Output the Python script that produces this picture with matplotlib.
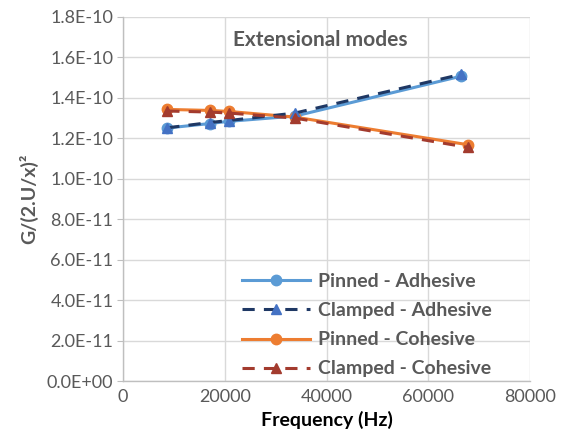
import matplotlib
matplotlib.use("Agg")
import matplotlib.pyplot as plt
from matplotlib.ticker import FuncFormatter

plt.rcParams['font.family'] = ['Lato', 'DejaVu Sans']

# data
freq_adh = [8700, 17000, 20800, 33800, 66400]
pinned_adh = [1.251e-10, 1.273e-10, 1.284e-10, 1.310e-10, 1.507e-10]
clamped_adh = [1.252e-10, 1.278e-10, 1.288e-10, 1.325e-10, 1.516e-10]

freq_coh = [8700, 17000, 20800, 33800, 67900]
pinned_coh = [1.343e-10, 1.338e-10, 1.333e-10, 1.305e-10, 1.168e-10]
clamped_coh = [1.335e-10, 1.330e-10, 1.325e-10, 1.300e-10, 1.155e-10]

labels = ["Pinned - Adhesive", "Clamped - Adhesive", "Pinned - Cohesive", "Clamped - Cohesive"]
x_ticks = [0, 20000, 40000, 60000, 80000]
y_ticks = [0, 2e-11, 4e-11, 6e-11, 8e-11, 1e-10, 1.2e-10, 1.4e-10, 1.6e-10, 1.8e-10]

grey = "#595959"

fig = plt.figure(figsize=(5.63, 4.46), dpi=100)
ax = fig.add_axes([0.2185, 0.1457, 0.7229, 0.8162])

ax.plot(freq_adh, pinned_adh, '-o', color="#5B9BD5", lw=2.2, ms=7.5,
        label=labels[0], zorder=3)
ax.plot(freq_adh, clamped_adh, '--^', color="#1F3864", lw=2.2, ms=7.5,
        mfc="#4472C4", mec="#4472C4", dashes=(4, 3), label=labels[1], zorder=4)
ax.plot(freq_coh, pinned_coh, '-o', color="#ED7D31", lw=2.2, ms=7.5,
        label=labels[2], zorder=3)
ax.plot(freq_coh, clamped_coh, '--^', color="#A33B2E", lw=2.2, ms=7.5,
        mfc="#A33B2E", mec="#A33B2E", dashes=(4, 3), label=labels[3], zorder=4)

ax.set_xticks(x_ticks)
ax.set_yticks(y_ticks)
ax.set_xlim(0, 80000)
ax.set_ylim(0, 1.8e-10)
ax.yaxis.set_major_formatter(FuncFormatter(lambda v, p: f"{v:.1E}"))

ax.grid(True, color="#D9D9D9", lw=1)
ax.set_axisbelow(True)
for s in ["top", "right"]:
    ax.spines[s].set_visible(False)
for s in ["left", "bottom"]:
    ax.spines[s].set_color("#BFBFBF")
    ax.spines[s].set_linewidth(1)

ax.tick_params(axis='y', length=4, color="#BFBFBF", labelsize=13, labelcolor=grey, pad=3)
ax.tick_params(axis='x', length=0, labelsize=13, labelcolor=grey, pad=6)

ax.set_xlabel("Frequency (Hz)", fontsize=14, fontweight='bold', color="black", labelpad=4)
ax.set_ylabel("G/(2.U/x)²", fontsize=14, fontweight='bold', color=grey, labelpad=6)

ax.text(0.484, 0.937, "Extensional modes", transform=ax.transAxes, ha='center', va='center',
        fontsize=15, fontweight='bold', color=grey)

leg = ax.legend(loc='lower left', bbox_to_anchor=(0.292, 0.01), frameon=False,
                borderaxespad=0, borderpad=0,
                fontsize=14, handlelength=3.5, handletextpad=0.4, labelspacing=0.62)
for t in leg.get_texts():
    t.set_color(grey)
    t.set_fontweight('bold')

fig.savefig("out.png", dpi=100)
